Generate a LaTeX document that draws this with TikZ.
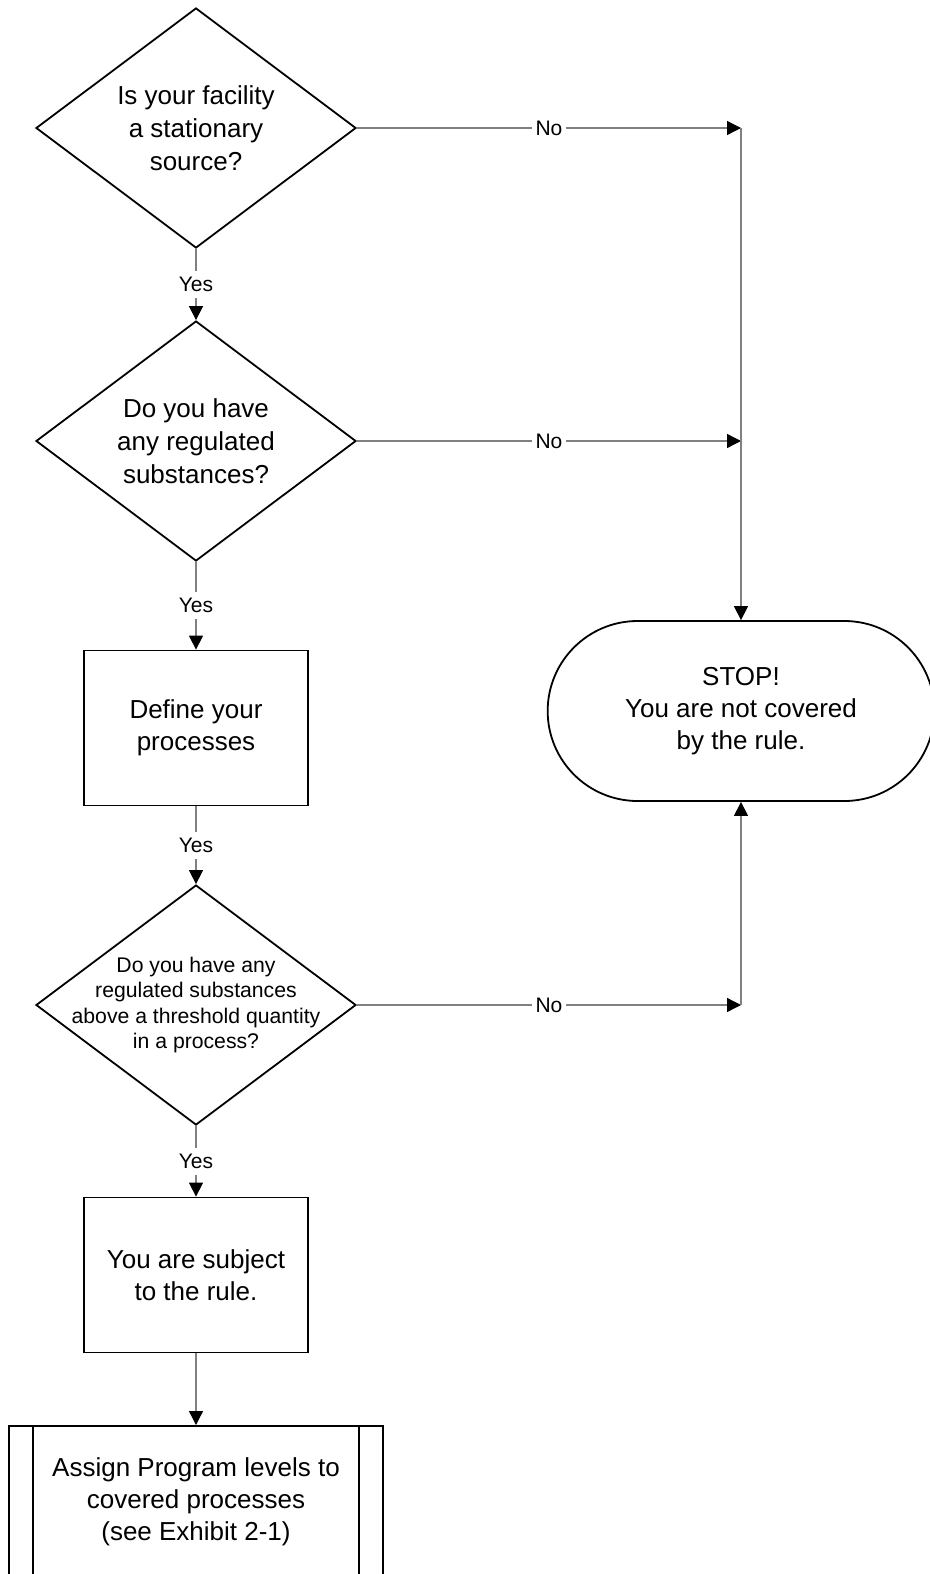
\documentclass[tikz,border=0pt]{standalone}
\usepackage{fontspec}
\setmainfont{Liberation Sans}
\usetikzlibrary{shapes.geometric,shapes.misc,arrows.meta}
\definecolor{linkgray}{RGB}{128,128,128}

\begin{document}
\begin{tikzpicture}[x=0.5pt,y=-0.5pt,
    shapeline/.style={draw=black,line width=0.9pt,fill=white,align=center,font=\fontsize{13pt}{16pt}\selectfont},
    decision/.style={shapeline,diamond,shape aspect=1.333,minimum width=160pt,minimum height=120pt,inner sep=0pt},
    process/.style={shapeline,rectangle,minimum width=112pt,minimum height=77.5pt},
    predef/.style={process,minimum width=187pt},
    terminal/.style={shapeline,rounded rectangle,minimum width=200pt,minimum height=90pt},
    link/.style={draw=linkgray,line width=0.65pt,-{Triangle[length=7pt,width=7pt,color=black]}},
    ans/.style={fill=white,inner xsep=2pt,inner ysep=3pt,font=\fontsize{10.5pt}{12pt}\selectfont}]
  \path[use as bounding box,clip] (0,0) rectangle (930,1574);
  \node[decision,font=\fontsize{13pt}{16.5pt}\selectfont] (isfac) at (196,128) {Is your facility\\a stationary\\source?};
  \node[decision,font=\fontsize{13pt}{16.5pt}\selectfont] (anysub) at (196,441) {Do you have\\any regulated\\substances?};
  \node[process] (define) at (196,728) {Define your\\processes};
  \node[decision,inner xsep=-20pt,font=\fontsize{10.6pt}{12.75pt}\selectfont] (thresh) at (196,1005) {Do you have any\\regulated substances\\above a threshold quantity\\in a process?};
  \node[process] (subject) at (196,1275) {You are subject\\to the rule.};
  \node[predef,anchor=north,minimum height=90pt,text depth=17pt] (assign) at (196,1425) {Assign Program levels to\\covered processes\\(see Exhibit 2-1)};
  \draw[line width=0.9pt] ([xshift=12.5pt]assign.north west) -- ([xshift=12.5pt]assign.south west);
  \draw[line width=0.9pt] ([xshift=-12.5pt]assign.north east) -- ([xshift=-12.5pt]assign.south east);
  \node[terminal] (stop) at (741,711) {STOP!\\You are not covered\\by the rule.};
  \foreach \a/\b in {isfac/anysub,anysub/define,define/thresh,thresh/subject}
    \draw[link] (\a.south) -- node[ans]{Yes} (\b.north);
  \draw[link] (subject.south) -- (assign.north);
  \foreach \q in {isfac,anysub,thresh}
    \draw[link] (\q.east) -- node[ans]{No} (\q.east -| stop.north);
  \draw[link] (isfac.east -| stop.north) -- (stop.north);
  \draw[link] (thresh.east -| stop.south) -- (stop.south);
\end{tikzpicture}
\end{document}
